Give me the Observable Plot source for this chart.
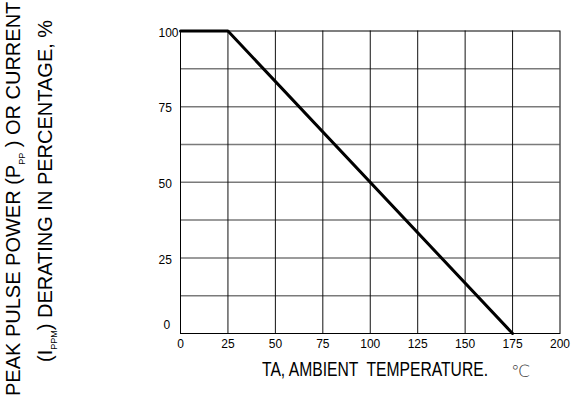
<!DOCTYPE html>
<html>
<head>
<meta charset="utf-8">
<script src="https://cdn.jsdelivr.net/npm/d3@7"></script>
<script src="https://cdn.jsdelivr.net/npm/@observablehq/plot@0.6"></script>
<style>
  html, body { margin: 0; padding: 0; background: #fff; }
  svg { display: block; }
</style>
</head>
<body>
<div id="chart"></div>
<script>
// Derating curve: ambient temperature (°C) vs derating (%)
const temperature = [0, 25, 175];
const derating = [100, 100, 0];

const xTicks = [0, 25, 50, 75, 100, 125, 150, 175, 200];
const yTicks = [0, 25, 50, 75, 100];
const yGrid = [12.5, 25, 37.5, 50, 62.5, 75, 87.5];
const xGrid = [25, 50, 75, 100, 125, 150, 175];

const xTitle = "TA, AMBIENT  TEMPERATURE.";
const unit = "\u2103";

const curve = temperature.map((t, i) => ({t, d: derating[i]}));
const font = "Liberation Sans, Arial, sans-serif";

const plot = Plot.plot({
  width: 581,
  height: 398,
  marginLeft: 180,
  marginRight: 21.5,
  marginTop: 30.5,
  marginBottom: 65,
  style: {fontFamily: font, fontSize: "12px", background: "#fff", color: "#000"},
  x: {domain: [0, 200], axis: null},
  y: {domain: [0, 100], axis: null},
  marks: [
    Plot.ruleY(yGrid, {stroke: "#7a7a7a", strokeWidth: 1.5}),
    Plot.ruleX(xGrid, {stroke: "#111", strokeWidth: 1}),
    Plot.frame({stroke: "#000", strokeWidth: 1}),
    Plot.line(curve, {x: "t", y: "d", stroke: "#000", strokeWidth: 3, strokeLinejoin: "miter"}),
    Plot.text(xTicks, {x: d => d, frameAnchor: "bottom", dy: 14, text: d => String(d), fill: "#000", fontSize: 12}),
    Plot.text(yTicks.filter(d => d !== 0), {y: d => d, frameAnchor: "left", textAnchor: "start", dx: -22, dy: 2, text: d => String(d), fill: "#000", fontSize: 12}),
    Plot.text(yTicks.filter(d => d === 0), {y: d => d, frameAnchor: "left", textAnchor: "start", dx: -17, dy: -8, text: d => String(d), fill: "#000", fontSize: 12})
  ]
});

document.getElementById("chart").appendChild(plot);

const svg = d3.select(plot);

// X axis title
svg.append("text")
  .attr("x", 262).attr("y", 376)
  .attr("text-anchor", "start")
  .attr("font-family", font).attr("font-size", 21)
  .attr("textLength", 226).attr("lengthAdjust", "spacingAndGlyphs")
  .attr("fill", "#000")
  .text(xTitle);
svg.append("text")
  .attr("x", 511).attr("y", 377)
  .attr("text-anchor", "start")
  .attr("font-family", "DejaVu Sans, sans-serif").attr("font-size", 17).attr("font-weight", 200)
  .attr("fill", "#333")
  .text(unit);

// Y axis title (two rotated lines with subscripts)
function rotLabel(x, y, parts) {
  const t = svg.append("text")
    .attr("transform", `translate(${x},${y}) rotate(-90)`)
    .attr("text-anchor", "start")
    .attr("font-family", font).attr("font-size", 20).attr("fill", "#000");
  let inSub = false;
  parts.forEach(([s, sub]) => {
    const ts = t.append("tspan").text(s);
    if (sub) { ts.attr("font-size", 9).attr("dy", 5); inSub = true; }
    else if (inSub) { ts.attr("dy", -5); inSub = false; }
  });
}
rotLabel(20, 396, [["PEAK PULSE POWER (P"], ["PP", true], [" ) OR CURRENT"]]);
rotLabel(52, 362, [["(I"], ["PPM", true], [") DERATING IN PERCENTAGE, %"]]);
</script>
</body>
</html>
